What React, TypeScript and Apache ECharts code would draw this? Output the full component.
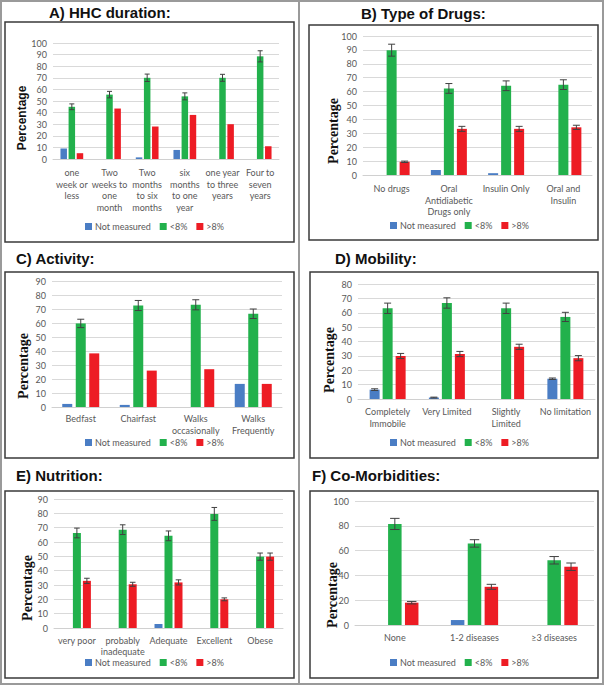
import React, { useEffect, useRef } from "react";
import * as echarts from "echarts";

// ---------- DATA ----------
const seriesNames = ["Not measured", "<8%", ">8%"];

const catsA = ["one\nweek or\nless", "Two\nweeks to\none\nmonth", "Two\nmonths\nto six\nmonths", "six\nmonths\nto one\nyear", "one year\nto three\nyears", "Four to\nseven\nyears"];
const notMeasuredA = [9, 0, 1.4, 7.8, 0, 0];
const below8A = [45, 55.5, 70, 54, 70, 88.5];
const above8A = [5, 43.5, 28, 38, 30, 11];
const below8ErrA = [2.5, 2.8, 3.2, 3, 3, 4.8];

const catsB = ["No drugs", "Oral\nAntidiabetic\nDrugs only", "Insulin Only", "Oral and\nInsulin"];
const notMeasuredB = [0, 3.6, 1.3, 0];
const below8B = [89.8, 62.3, 64.2, 65];
const above8B = [9.5, 33.2, 33.2, 34.3];
const below8ErrB = [4.3, 3.5, 3.5, 3.5];
const above8ErrB = [0.5, 1.8, 1.8, 1.5];

const catsC = ["Bedfast", "Chairfast", "Walks\noccasionally", "Walks\nFrequently"];
const notMeasuredC = [2.2, 1.5, 0, 16.5];
const below8C = [59.7, 72.5, 73, 66.6];
const above8C = [38.3, 26, 27, 16.5];
const below8ErrC = [3, 3.6, 3.6, 3.4];

const catsD = ["Completely\nImmobile", "Very Limited", "Slightly\nLimited", "No limitation"];
const notMeasuredD = [6.5, 1, 0, 14.1];
const below8D = [63.1, 66.8, 63.1, 57.1];
const above8D = [29.9, 31.3, 36.3, 28.4];
const notMeasuredErrD = [0.6, 0.3, 0, 0.5];
const below8ErrD = [3.6, 3.6, 3.6, 3.2];
const above8ErrD = [1.8, 1.8, 1.8, 1.8];

const catsE = ["very poor", "probably\ninadequate", "Adequate", "Excellent", "Obese"];
const notMeasuredE = [0, 0, 2.8, 0, 0];
const below8E = [66.3, 68.6, 64.3, 79.6, 49.8];
const above8E = [32.9, 30.5, 31.8, 20, 49.8];
const below8ErrE = [3.4, 3.4, 3.4, 4.5, 2.5];
const above8ErrE = [1.8, 1.4, 1.8, 1, 2.5];

const catsF = ["None", "1-2 diseases", "\u22653 diseases"];
const notMeasuredF = [0, 4, 0];
const below8F = [81.5, 65.8, 52.2];
const above8F = [18, 30.8, 47];
const below8ErrF = [4.5, 3, 3];
const above8ErrF = [1, 2, 3];

const titles = ["A) HHC duration:", "B) Type of Drugs:", "C) Activity:", "D) Mobility:", "E) Nutrition:", "F) Co-Morbidities:"];
const yAxisTitle = "Percentage";

// ---------- LAYOUT ----------
const serifBold = "bold 14px 'Liberation Serif', 'Times New Roman', serif";
const panels = [
  { cats: catsA, nm: notMeasuredA, lo: below8A, hi: above8A, nmErr: null, loErr: below8ErrA, hiErr: null,
    grid: { left: 53, top: 43, width: 226, height: 116 }, max: 100, interval: 10, bw: 6.5, gap: 0.25, lh: 11.5, mg: 8,
    box: [5, 22, 289, 220], title: [49, 12], yt: [22, 118, "bold 12px 'Liberation Sans', Arial, sans-serif"], legend: [85, 228] },
  { cats: catsB, nm: notMeasuredB, lo: below8B, hi: above8B, nmErr: null, loErr: below8ErrB, hiErr: above8ErrB,
    grid: { left: 363, top: 36, width: 229, height: 139 }, max: 100, interval: 10, bw: 10, gap: 0.3, lh: 11.5, mg: 8,
    box: [309, 25, 289, 215], title: [361, 13], yt: [333, 131, serifBold], legend: [390, 227] },
  { cats: catsC, nm: notMeasuredC, lo: below8C, hi: above8C, nmErr: null, loErr: below8ErrC, hiErr: null,
    grid: { left: 52, top: 281, width: 230, height: 126 }, max: 90, interval: 10, bw: 10, gap: 0.35, lh: 11.5, mg: 6,
    box: [5, 272, 289, 186], title: [16, 258], yt: [23, 366, serifBold], legend: [85, 444] },
  { cats: catsD, nm: notMeasuredD, lo: below8D, hi: above8D, nmErr: notMeasuredErrD, loErr: below8ErrD, hiErr: above8ErrD,
    grid: { left: 358, top: 284, width: 237, height: 115 }, max: 80, interval: 10, bw: 10, gap: 0.3, lh: 11.5, mg: 7,
    box: [310, 272, 288, 186], title: [335, 258], yt: [329, 360, serifBold], legend: [390, 444] },
  { cats: catsE, nm: notMeasuredE, lo: below8E, hi: above8E, nmErr: null, loErr: below8ErrE, hiErr: above8ErrE,
    grid: { left: 54, top: 499, width: 229, height: 129 }, max: 90, interval: 10, bw: 8, gap: 0.25, lh: 11, mg: 7,
    box: [5, 491, 289, 187], title: [16, 475], yt: [27, 588, serifBold], legend: [85, 664] },
  { cats: catsF, nm: notMeasuredF, lo: below8F, hi: above8F, nmErr: null, loErr: below8ErrF, hiErr: above8ErrF,
    grid: { left: 355, top: 501, width: 239, height: 124 }, max: 100, interval: 20, bw: 13.5, gap: 0.25, lh: 11.5, mg: 7,
    box: [310, 491, 288, 187], title: [312, 475], yt: [332, 595, serifBold], legend: [390, 664] },
];

const colors = ["#4a7dc4", "#22b14c", "#ed1c24"];
const labelFont = "Lato, 'Noto Sans', sans-serif";
const labelColor = "#595959";

function buildOption() {
  const grids: any[] = [];
  const xAxes: any[] = [];
  const yAxes: any[] = [];
  const series: any[] = [];
  const legends: any[] = [];
  const graphics: any[] = [];

  graphics.push({ type: "rect", shape: { x: 1, y: 1, width: 602, height: 683 }, style: { fill: "none", stroke: "#9a9a9a", lineWidth: 2 }, silent: true });
  graphics.push({ type: "line", shape: { x1: 299, y1: 1, x2: 299, y2: 684 }, style: { stroke: "#9a9a9a", lineWidth: 2 }, silent: true });

  panels.forEach((p, i) => {
    grids.push({ ...p.grid, containLabel: false });
    xAxes.push({
      type: "category", gridIndex: i, data: p.cats,
      axisLine: { lineStyle: { color: "#d0d0d0" } }, axisTick: { show: false },
      axisLabel: { interval: 0, color: labelColor, fontSize: 9, fontFamily: labelFont, lineHeight: p.lh, margin: p.mg },
    });
    yAxes.push({
      type: "value", gridIndex: i, min: 0, max: p.max, interval: p.interval,
      axisLine: { show: false }, axisTick: { show: false },
      splitLine: { lineStyle: { color: "#d9d9d9" } },
      axisLabel: { color: labelColor, fontSize: 9, fontFamily: labelFont, margin: 6 },
    });
    const vals = [p.nm, p.lo, p.hi];
    vals.forEach((v, k) => {
      series.push({
        type: "bar", name: seriesNames[k], xAxisIndex: i, yAxisIndex: i, data: v,
        barWidth: p.bw, barGap: `${p.gap * 100}%`,
        itemStyle: { color: colors[k] }, silent: true,
      });
    });
    const step = p.bw * (1 + p.gap);
    const errs = [p.nmErr, p.loErr, p.hiErr];
    errs.forEach((e, k) => {
      if (!e) return;
      const data = vals[k].map((v, j) => [j, v, e[j]]).filter((d) => d[2] > 0);
      const offset = (k - 1) * step;
      const cap = Math.max(2.5, p.bw * 0.35);
      series.push({
        type: "custom", xAxisIndex: i, yAxisIndex: i, data, z: 5, silent: true,
        encode: { x: 0, y: 1 },
        renderItem: (params: any, api: any) => {
          const idx = api.value(0);
          const v = api.value(1);
          const er = api.value(2);
          const top = api.coord([idx, v + er]);
          const bot = api.coord([idx, v - er]);
          const x = top[0] + offset;
          const st = { stroke: "#404040", lineWidth: 1 };
          return {
            type: "group",
            children: [
              { type: "line", shape: { x1: x, y1: top[1], x2: x, y2: bot[1] }, style: st },
              { type: "line", shape: { x1: x - cap, y1: top[1], x2: x + cap, y2: top[1] }, style: st },
              { type: "line", shape: { x1: x - cap, y1: bot[1], x2: x + cap, y2: bot[1] }, style: st },
            ],
          };
        },
      });
    });
    legends.push({
      data: seriesNames, left: p.legend[0], top: p.legend[1] - 6, padding: 0,
      itemWidth: 7, itemHeight: 7, itemGap: 9, icon: "rect", selectedMode: false,
      textStyle: { color: labelColor, fontSize: 9, fontFamily: labelFont, padding: [0, 0, 0, -2] },
    });
    graphics.push({ type: "rect", shape: { x: p.box[0], y: p.box[1], width: p.box[2], height: p.box[3] }, style: { fill: "none", stroke: "#3a3a3a", lineWidth: 1.5 }, silent: true });
    graphics.push({ type: "text", x: p.title[0], y: p.title[1], style: { text: titles[i], font: "bold 15px 'Liberation Sans', Arial, sans-serif", fill: "#111", textAlign: "left", textVerticalAlign: "middle" }, silent: true });
    graphics.push({ type: "text", x: p.yt[0], y: p.yt[1], rotation: Math.PI / 2, style: { text: yAxisTitle, font: p.yt[2], fill: "#111", textAlign: "center", textVerticalAlign: "middle" }, silent: true });
  });

  return {
    animation: false,
    backgroundColor: "#ffffff",
    grid: grids, xAxis: xAxes, yAxis: yAxes, series, legend: legends,
    graphic: graphics,
  };
}

export default function App() {
  const ref = useRef<HTMLDivElement>(null);
  useEffect(() => {
    if (!ref.current) return;
    const chart = echarts.init(ref.current, undefined, { renderer: "svg" });
    chart.setOption(buildOption());
    return () => chart.dispose();
  }, []);
  return <div ref={ref} style={{ position: "absolute", left: 0, top: 0, width: 605, height: 686, background: "#fff" }} />;
}
